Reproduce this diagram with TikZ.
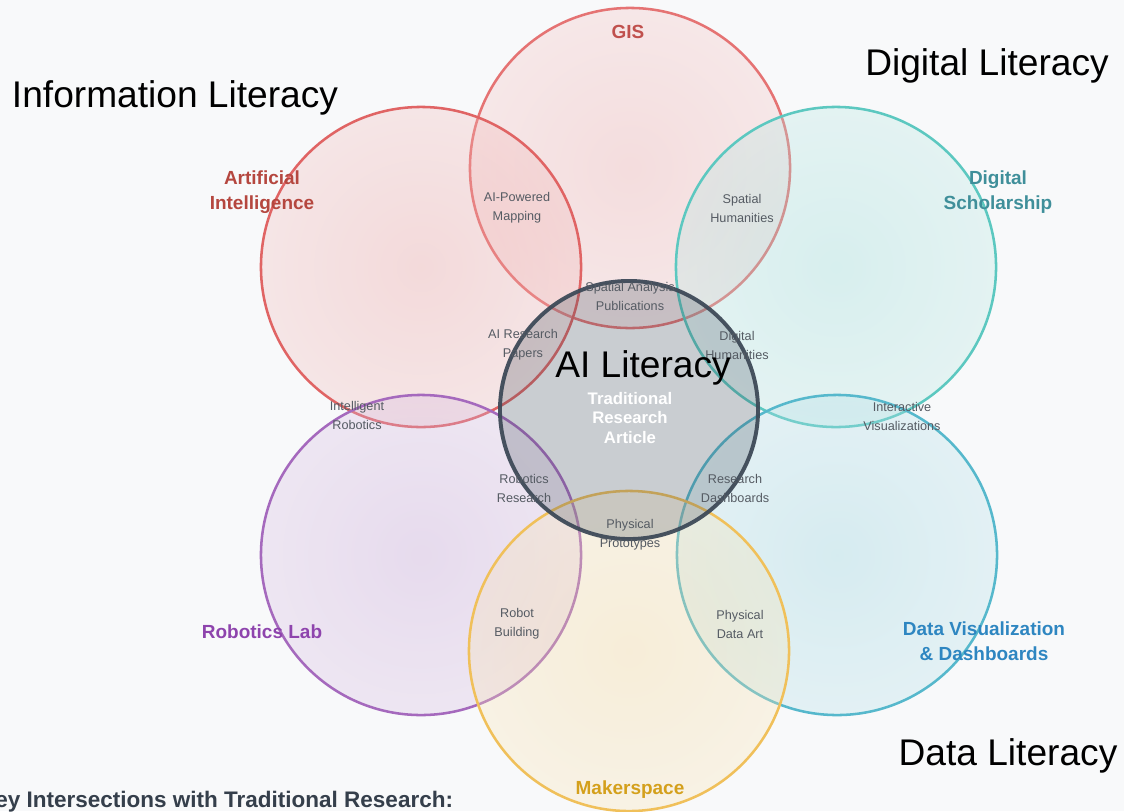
\documentclass[tikz,border=0pt]{standalone}
\usepackage{fontspec}
\setmainfont{Liberation Sans}
\definecolor{bgc}{HTML}{F8F9FA}
\definecolor{gisc}{HTML}{E57373}
\definecolor{gistext}{HTML}{C0504D}
\definecolor{aic}{HTML}{E06464}
\definecolor{aitext}{HTML}{B5473F}
\definecolor{dsc}{HTML}{5CC8C0}
\definecolor{dstext}{HTML}{3F8F9A}
\definecolor{dvc}{HTML}{56B8CC}
\definecolor{dvtext}{HTML}{2E86C1}
\definecolor{robc}{HTML}{A569BD}
\definecolor{robtext}{HTML}{8E44AD}
\definecolor{makc}{HTML}{F0C05A}
\definecolor{maktext}{HTML}{D4A01C}
\definecolor{corec}{HTML}{3E4A58}
\definecolor{smallc}{HTML}{555B63}
\begin{document}
\begin{tikzpicture}[x=0.025cm,y=-0.025cm,
        ring/.style={shape=circle, draw=#1, line width=1.8pt, inner sep=0pt,
            minimum size=8cm, shading=radial, inner color=#1!70!white,
            outer color=#1!45!white, fill opacity=0.3},
        area/.style={font=\bfseries\fontsize{13.5}{17.7}\selectfont, text=#1, align=center},
        overlap/.style={font=\fontsize{9}{13.5}\selectfont, text=smallc, align=center},
        literacy/.style={font=\fontsize{26.4}{30}\selectfont, text=black}]
                \useasboundingbox (0,0) rectangle (1124,811);
                \fill[bgc] (0,0) rectangle (1124,811);

                % outer circles
                \node[ring=gisc] (gis) at (630,168) {};
                \node[ring=aic] (ai) at (421,267) {};
                \node[ring=dsc] (ds) at (836,267) {};
                \node[ring=robc] (rob) at (421,555) {};
                \node[ring=dvc] (dv) at (837,555) {};
                \node[ring=makc] (mak) at (629,651) {};

                % traditional research in the middle
                \node[shape=circle, draw=corec, line width=2.8pt, fill=corec, fill opacity=0.25,
                    draw opacity=0.95, inner sep=0pt, minimum size=6.45cm] (core) at (629,410) {};

                \node[area=gistext] (gislbl) at (628,32) {GIS};
                \node[area=aitext] (ailbl) at (262,192) {Artificial\\Intelligence};
                \node[area=dstext] (dslbl) at (998,192) {Digital\\Scholarship};
                \node[area=robtext] (roblbl) at (262,632) {Robotics Lab};
                \node[area=dvtext] (dvlbl) at (984,641) {Data Visualization\\\& Dashboards};
                \node[area=maktext] (maklbl) at (630,790) {Makerspace};
                \node[font=\bfseries\fontsize{11.9}{13.8}\selectfont, text=white, align=center]
                    (corelbl) at (630,418) {Traditional\\Research\\Article};

                % intersections
                \node[overlap] (aigis) at (517,208) {AI-Powered\\Mapping};
                \node[overlap] (gisds) at (742,208) {Spatial\\Humanities};
                \node[overlap] (giscore) at (630,296) {Spatial Analysis\\Publications};
                \node[overlap] (aicore) at (523,345) {AI Research\\Papers};
                \node[overlap] (dscore) at (737,345) {Digital\\Humanities};
                \node[overlap] (airob) at (357,415) {Intelligent\\Robotics};
                \node[overlap] (dsdv) at (902,416) {Interactive\\Visualizations};
                \node[overlap] (robcore) at (524,488) {Robotics\\Research};
                \node[overlap] (dvcore) at (735,488) {Research\\Dashboards};
                \node[overlap] (makcore) at (630,535) {Physical\\Prototypes};
                \node[overlap] (robmak) at (517,624) {Robot\\Building};
                \node[overlap] (dvmak) at (740,624) {Physical\\Data Art};

                % literacies
                \node[literacy] (infolit) at (175,98) {Information Literacy};
                \node[literacy] (diglit) at (987,66) {Digital Literacy};
                \node[literacy] (ailit) at (643,368) {AI Literacy};
                \node[literacy] (datalit) at (1008,756) {Data Literacy};

                \node[anchor=base east, font=\bfseries\fontsize{16}{19}\selectfont, text=corec!85!black]
                    (keyttl) at (458,807) {Key Intersections with Traditional Research:};
            \end{tikzpicture}
\end{document}
